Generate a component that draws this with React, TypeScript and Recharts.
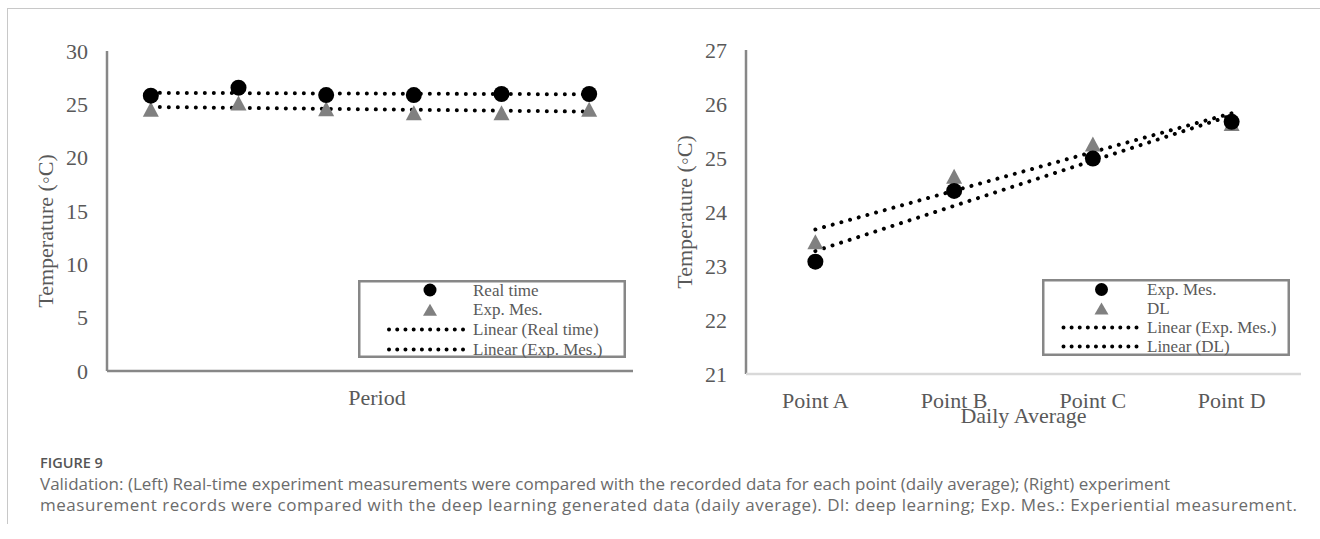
import React from 'react';
import { ComposedChart, Line, XAxis, YAxis } from 'recharts';

// ---------- data ----------
const periods = ['P1', 'P2', 'P3', 'P4', 'P5', 'P6'];
const realTime = [25.81, 26.56, 25.87, 25.87, 25.97, 25.97];
const expMesLeft = [24.53, 25.12, 24.59, 24.22, 24.22, 24.53];
const leftTicks = [0, 5, 10, 15, 20, 25, 30];

const points = ['Point A', 'Point B', 'Point C', 'Point D'];
const expMesRight = [23.08, 24.39, 24.99, 25.67];
const dlRight = [23.45, 24.66, 25.26, 25.64];
const rightTicks = [21, 22, 23, 24, 25, 26, 27];

const leftLegend = ['Real time', 'Exp. Mes.', 'Linear (Real time)', 'Linear (Exp. Mes.)'];
const rightLegend = ['Exp. Mes.', 'DL', 'Linear (Exp. Mes.)', 'Linear (DL)'];

const yTitle = 'Temperature (◦C)';
const leftXTitle = 'Period';
const rightXTitle = 'Daily Average';
const figLabel = 'FIGURE 9';
const captionLine1 =
  'Validation: (Left) Real-time experiment measurements were compared with the recorded data for each point (daily average); (Right) experiment';
const captionLine2 =
  'measurement records were compared with the deep learning generated data (daily average). Dl: deep learning; Exp. Mes.: Experiential measurement.';

// least-squares linear trend (like Excel "Linear" trendline)
function linearFit(v: number[]): number[] {
  const n = v.length;
  const mx = (n - 1) / 2;
  const my = v.reduce((a, b) => a + b, 0) / n;
  let sxy = 0;
  let sxx = 0;
  v.forEach((y, i) => {
    sxy += (i - mx) * (y - my);
    sxx += (i - mx) * (i - mx);
  });
  const b = sxy / sxx;
  return v.map((_, i) => my + b * (i - mx));
}

const realFit = linearFit(realTime);
const expLeftFit = linearFit(expMesLeft);
const expRightFit = linearFit(expMesRight);
const dlFit = linearFit(dlRight);

const leftData = periods.map((p, i) => ({
  cat: p,
  real: realTime[i],
  exp: expMesLeft[i],
  realFit: realFit[i],
  expFit: expLeftFit[i],
}));

const rightData = points.map((p, i) => ({
  cat: p,
  exp: expMesRight[i],
  dl: dlRight[i],
  expFit: expRightFit[i],
  dlFit: dlFit[i],
}));

// ---------- layout ----------
const LEFT_PLOT_W = 660 - 107 - 27;
const LEFT_PAD = LEFT_PLOT_W / periods.length / 2;
const RIGHT_PLOT_W = 660 - 86 - 19;
const RIGHT_PAD = RIGHT_PLOT_W / points.length / 2;

// ---------- styles ----------
const SERIF = '"Liberation Serif", "Times New Roman", serif';
const TEXT_GRAY = '#595959';
const BORDER = '#878787';
const TRI = '#808080';

const circleDot = (r: number) => (p: any) =>
  p.cx == null || p.cy == null ? (
    <g key={`c${p.index}`} />
  ) : (
    <circle key={`c${p.index}`} cx={p.cx} cy={p.cy} r={r} fill="#000" />
  );

const triDot = (w: number, h: number) => (p: any) =>
  p.cx == null || p.cy == null ? (
    <g key={`t${p.index}`} />
  ) : (
    <path
      key={`t${p.index}`}
      d={`M${p.cx},${p.cy - h / 2} L${p.cx + w / 2},${p.cy + h / 2} L${p.cx - w / 2},${p.cy + h / 2} Z`}
      fill={TRI}
    />
  );

const YTitle = (props: any) => {
  const { viewBox, txt, ox, sy } = props;
  const vb = viewBox || { x: 0, y: 0, width: 0, height: 0 };
  const x = vb.x + ox;
  const y = vb.y + vb.height / 2 + sy;
  return (
    <text
      x={x}
      y={y}
      transform={`rotate(-90 ${x} ${y})`}
      textAnchor="middle"
      dominantBaseline="central"
      fill={TEXT_GRAY}
      fontSize={22}
      fontFamily={SERIF}
    >
      {txt}
    </text>
  );
};

const tickStyle = { fill: TEXT_GRAY, fontSize: 22, fontFamily: SERIF };

type LegendProps = {
  left: number;
  top: number;
  width: number;
  height: number;
  labels: string[];
  markerX: number;
  lineX1: number;
  lineX2: number;
  textX: number;
  rowY0: number;
  rowStep: number;
};

function ChartLegend(p: LegendProps) {
  const kinds = ['circle', 'triangle', 'dots', 'dots'];
  const gap = (p.lineX2 - p.lineX1) / 9;
  return (
    <svg style={{ position: 'absolute', left: p.left, top: p.top }} width={p.width} height={p.height}>
      <rect
        x={1.25}
        y={1.25}
        width={p.width - 2.5}
        height={p.height - 2.5}
        fill="#fff"
        stroke={BORDER}
        strokeWidth={2.5}
      />
      {p.labels.map((label, i) => {
        const cy = p.rowY0 + i * p.rowStep;
        const kind = kinds[i];
        return (
          <g key={label + i}>
            {kind === 'circle' && <circle cx={p.markerX} cy={cy} r={6.5} fill="#000" />}
            {kind === 'triangle' && (
              <path
                d={`M${p.markerX},${cy - 6} L${p.markerX + 7},${cy + 6} L${p.markerX - 7},${cy + 6} Z`}
                fill={TRI}
              />
            )}
            {kind === 'dots' && (
              <line
                x1={p.lineX1}
                x2={p.lineX2 + 0.02}
                y1={cy}
                y2={cy}
                stroke="#000"
                strokeWidth={4}
                strokeLinecap="round"
                strokeDasharray={`0.01 ${gap - 0.01}`}
              />
            )}
            <text
              x={p.textX}
              y={cy}
              dominantBaseline="central"
              fill={TEXT_GRAY}
              fontSize={17}
              fontFamily={SERIF}
            >
              {label}
            </text>
          </g>
        );
      })}
    </svg>
  );
}

const fitLineProps = {
  stroke: '#000',
  strokeWidth: 4,
  strokeLinecap: 'round' as const,
  strokeDasharray: '0.01 8.99',
  dot: false,
  activeDot: false,
  isAnimationActive: false,
  legendType: 'none' as const,
};

function LeftChart() {
  return (
    <ComposedChart width={660} height={440} data={leftData} margin={{ top: 51, right: 27, bottom: 30, left: 0 }}>
      <XAxis
        dataKey="cat"
        type="category"
        tick={false}
        tickLine={false}
        height={39}
        padding={{ left: LEFT_PAD, right: LEFT_PAD }}
        axisLine={{ stroke: BORDER, strokeWidth: 2.5 }}
        label={{
          value: leftXTitle,
          position: 'insideBottom',
          offset: 5,
          dx: 7,
          fill: TEXT_GRAY,
          fontSize: 22,
          fontFamily: SERIF,
        }}
      />
      <XAxis
        xAxisId="top"
        orientation="top"
        dataKey="cat"
        tick={false}
        tickLine={false}
        height={0}
        padding={{ left: LEFT_PAD, right: LEFT_PAD }}
        axisLine={{ stroke: BORDER, strokeWidth: 2.5 }}
      />
      <YAxis
        domain={[0, 30]}
        ticks={leftTicks}
        width={107}
        tickLine={false}
        tickSize={0}
        tickMargin={19}
        tick={tickStyle}
        axisLine={{ stroke: BORDER, strokeWidth: 2.5 }}
        label={<YTitle txt={yTitle} ox={45} sy={20} />}
      />
      <YAxis
        yAxisId="right"
        orientation="right"
        domain={[0, 30]}
        width={0}
        tick={false}
        tickLine={false}
        axisLine={{ stroke: BORDER, strokeWidth: 2.5 }}
      />
      <Line dataKey="exp" stroke="none" dot={triDot(16, 15)} activeDot={false} isAnimationActive={false} />
      <Line dataKey="real" stroke="none" dot={circleDot(8)} activeDot={false} isAnimationActive={false} />
      <Line dataKey="realFit" {...fitLineProps} />
      <Line dataKey="expFit" {...fitLineProps} />
    </ComposedChart>
  );
}

function RightChart() {
  return (
    <ComposedChart width={660} height={440} data={rightData} margin={{ top: 50, right: 19, bottom: 12, left: 0 }}>
      <XAxis
        xAxisId="top"
        orientation="top"
        dataKey="cat"
        tick={false}
        tickLine={false}
        height={0}
        padding={{ left: RIGHT_PAD, right: RIGHT_PAD }}
        axisLine={{ stroke: BORDER, strokeWidth: 2.5 }}
      />
      <YAxis
        domain={[21, 27]}
        ticks={rightTicks}
        width={86}
        tickLine={false}
        tickSize={0}
        tickMargin={19}
        tick={tickStyle}
        axisLine={{ stroke: BORDER, strokeWidth: 2.5 }}
        label={<YTitle txt={yTitle} ox={24} sy={0} />}
      />
      <YAxis
        yAxisId="right"
        orientation="right"
        domain={[21, 27]}
        width={0}
        tick={false}
        tickLine={false}
        axisLine={{ stroke: BORDER, strokeWidth: 2.5 }}
      />
      <XAxis
        dataKey="cat"
        type="category"
        tickLine={false}
        tickSize={0}
        tickMargin={18}
        tick={tickStyle}
        interval={0}
        height={54}
        padding={{ left: RIGHT_PAD, right: RIGHT_PAD }}
        axisLine={{ stroke: '#d9d9d9', strokeWidth: 2.5 }}
        label={{
          value: rightXTitle,
          position: 'insideBottom',
          offset: 5,
          fill: TEXT_GRAY,
          fontSize: 22,
          fontFamily: SERIF,
        }}
      />
      <Line dataKey="dl" stroke="none" dot={triDot(16, 15)} activeDot={false} isAnimationActive={false} />
      <Line dataKey="exp" stroke="none" dot={circleDot(8)} activeDot={false} isAnimationActive={false} />
      <Line dataKey="expFit" {...fitLineProps} />
      <Line dataKey="dlFit" {...fitLineProps} />
    </ComposedChart>
  );
}

export default function App() {
  return (
    <div
      style={{
        position: 'absolute',
        left: 0,
        top: 0,
        width: 1320,
        height: 539,
        background: '#fff',
        overflow: 'hidden',
      }}
    >
      <div
        style={{
          position: 'absolute',
          left: 7,
          top: 8,
          width: 1400,
          height: 515,
          borderTop: '1px solid #c8c8c8',
          borderLeft: '1px solid #c8c8c8',
        }}
      />
      <div style={{ position: 'absolute', left: 0, top: 0 }}>
        <LeftChart />
      </div>
      <div style={{ position: 'absolute', left: 660, top: 0 }}>
        <RightChart />
      </div>
      <ChartLegend
        left={358}
        top={280}
        width={268}
        height={78}
        labels={leftLegend}
        markerX={72}
        lineX1={31}
        lineX2={105}
        textX={115}
        rowY0={10}
        rowStep={19.8}
      />
      <ChartLegend
        left={1042}
        top={279}
        width={248}
        height={77}
        labels={rightLegend}
        markerX={59.5}
        lineX1={21.5}
        lineX2={94.5}
        textX={105}
        rowY0={10.5}
        rowStep={19}
      />
      <div
        style={{
          position: 'absolute',
          left: 40,
          top: 453,
          fontFamily: '"Open Sans", sans-serif',
          fontWeight: 600,
          fontSize: 14.5,
          lineHeight: '20px',
          color: '#555',
          whiteSpace: 'nowrap',
        }}
      >
        {figLabel}
      </div>
      <div
        style={{
          position: 'absolute',
          left: 40,
          top: 473,
          fontFamily: '"Open Sans", sans-serif',
          fontSize: 17,
          lineHeight: '21px',
          color: '#6b6b6b',
          whiteSpace: 'nowrap',
        }}
      >
        <div>{captionLine1}</div>
        <div style={{ letterSpacing: 0.53 }}>{captionLine2}</div>
      </div>
    </div>
  );
}
